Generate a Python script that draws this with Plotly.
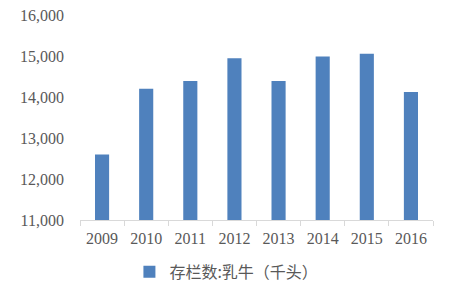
import plotly.graph_objects as go

years = ["2009", "2010", "2011", "2012", "2013", "2014", "2015", "2016"]
dairy_cattle = [12600, 14200, 14390, 14945, 14390, 14985, 15055, 14120]
series_name = "存栏数:乳牛（千头）"
y_ticks = [11000, 12000, 13000, 14000, 15000, 16000]
y_tick_labels = ["11,000", "12,000", "13,000", "14,000", "15,000", "16,000"]

fig = go.Figure()
fig.add_trace(go.Bar(
    x=years, y=dairy_cattle, name=series_name,
    marker=dict(color="#4F81BD", line=dict(width=0)),
    showlegend=True,
))

fig.update_layout(
    width=465, height=297,
    margin=dict(l=80, r=32, t=15, b=77, autoexpand=False),
    paper_bgcolor="white", plot_bgcolor="white",
    bargap=0.68,
    font=dict(family="Liberation Serif, Times New Roman, serif", size=16, color="#595959"),
    showlegend=True,
    legend=dict(
        orientation="h", x=0.14, xanchor="left", y=-0.17, yanchor="top",
        font=dict(family="Noto Sans CJK SC", size=16, color="#595959"),
        itemwidth=30,
    ),
)
fig.update_xaxes(
    type="category",
    showline=True, linecolor="#D9D9D9", linewidth=1,
    ticks="outside", tickson="boundaries", ticklen=5, tickcolor="#D9D9D9",
    showgrid=False, ticklabelstandoff=4,
)
fig.update_yaxes(
    range=[11000, 16000],
    tickvals=y_ticks, ticktext=y_tick_labels,
    showgrid=False, showline=False, zeroline=False,
    ticks="", ticklabelstandoff=15,
)

fig.write_html("out.html")
